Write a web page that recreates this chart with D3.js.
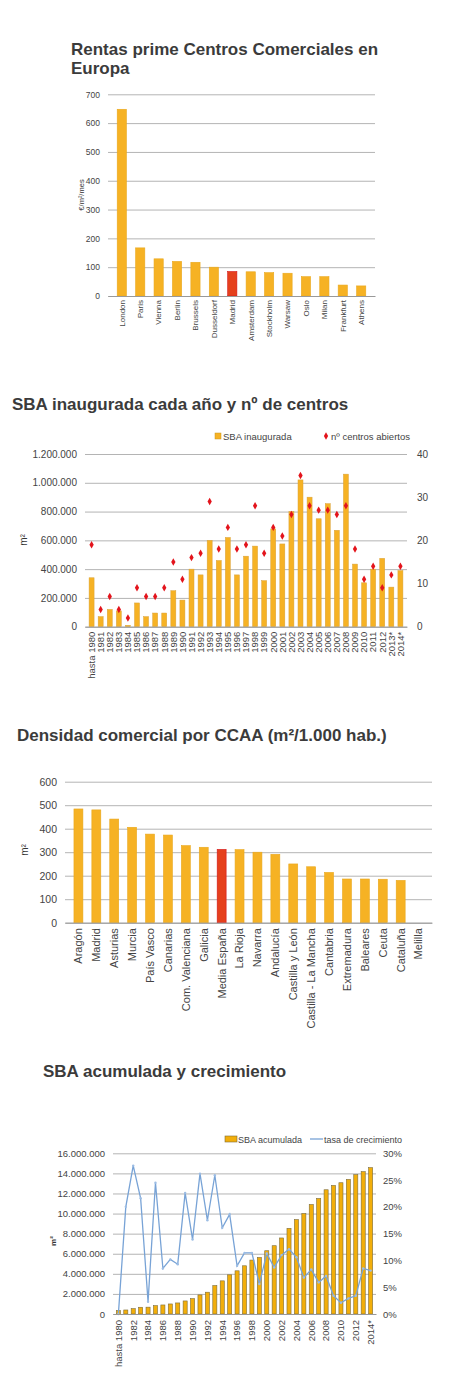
<!DOCTYPE html>
<html>
<head>
<meta charset="utf-8">
<script src="https://cdn.jsdelivr.net/npm/d3@7"></script>
<style>
  body { margin: 0; background: #fff; }
  svg { display: block; font-family: "Liberation Sans", Arial, sans-serif; }
  .title { font-weight: bold; fill: #3b3b3b; }
  .tick text { fill: #444; }
  .legend text { fill: #444; }
</style>
</head>
<body>
<svg id="chart" width="450" height="1390"></svg>
<script>
// --- chart 1: rentas prime
const cities = ['London', 'Paris', 'Vienna', 'Berlin', 'Brussels', 'Dusseldorf', 'Madrid',
  'Amsterdam', 'Stockholm', 'Warsaw', 'Oslo', 'Milan', 'Frankfurt', 'Athens'];
const rents = [648, 167, 129, 120, 117, 100, 85, 84, 81, 79, 67, 67, 38, 35];
const rentTicks = [0, 100, 200, 300, 400, 500, 600, 700];

// --- chart 2: SBA inaugurada / nº centros
const years = ['hasta 1980', '1981', '1982', '1983', '1984', '1985', '1986', '1987', '1988', '1989',
  '1990', '1991', '1992', '1993', '1994', '1995', '1996', '1997', '1998', '1999', '2000', '2001',
  '2002', '2003', '2004', '2005', '2006', '2007', '2008', '2009', '2010', '2011', '2012', '2013*', '2014*'];
const sbaOpened = [340000, 70000, 120000, 110000, 10000, 165000, 70000, 95000, 95000, 250000,
  185000, 400000, 360000, 600000, 460000, 620000, 360000, 490000, 560000, 320000, 680000, 575000,
  800000, 1020000, 900000, 750000, 855000, 670000, 1060000, 435000, 305000, 400000, 475000, 275000, 390000];
const centresOpened = [19, 4, 7, 4, 2, 9, 7, 7, 9, 15, 11, 16, 17, 29, 18, 23, 18, 19, 28, 17, 23, 21,
  26, 35, 28, 27, 27, 26, 28, 18, 11, 14, 9, 12, 14];
const sbaTicks = [0, 200000, 400000, 600000, 800000, 1000000, 1200000];
const centreTicks = [0, 10, 20, 30, 40];

// --- chart 3: densidad comercial
const regions = ['Aragón', 'Madrid', 'Asturias', 'Murcia', 'País Vasco', 'Canarias', 'Com. Valenciana',
  'Galicia', 'Media España', 'La Rioja', 'Navarra', 'Andalucía', 'Castilla y León', 'Castilla - La Mancha',
  'Cantabria', 'Extremadura', 'Baleares', 'Ceuta', 'Cataluña', 'Melilla'];
const density = [484, 480, 441, 406, 377, 373, 328, 321, 312, 311, 300, 291, 250, 238, 214, 186, 186, 185, 180, 0];
const densityTicks = [0, 100, 200, 300, 400, 500, 600];

// --- chart 4: SBA acumulada y crecimiento
const sbaCumulative = [340000, 400000, 530000, 670000, 680000, 830000, 900000, 1000000, 1100000, 1300000,
  1530000, 1900000, 2170000, 2830000, 3300000, 3900000, 4300000, 4800000, 5370000, 5630000, 6300000,
  6800000, 7570000, 8530000, 9400000, 10000000, 10900000, 11500000, 12370000, 12800000, 13070000,
  13400000, 13870000, 14170000, 14570000];
const growthRate = [0, 20.0, 27.7, 21.6, 2.3, 24.5, 8.5, 10.2, 9.3, 22.6, 13.9, 26.2, 17.5, 25.9, 16.1,
  18.6, 9.0, 11.4, 11.4, 5.6, 11.3, 8.7, 11.0, 12.1, 10.6, 6.8, 8.3, 5.9, 7.1, 3.4, 2.1, 2.9, 3.4, 8.5, 8.1];
const cumTicks = [0, 2000000, 4000000, 6000000, 8000000, 10000000, 12000000, 14000000, 16000000];
const rateTicks = [0, 5, 10, 15, 20, 25, 30];

const GOLD = '#f6b224';
const RED = '#e5401c';
const GRID = '#b4b4b4';

const es = d3.formatLocale({ decimal: ',', thousands: '.', grouping: [3], currency: ['', '€'] });
const fmtThousands = es.format(',');

const svg = d3.select('#chart');

function title(lines, x, y, size) {
  const t = svg.append('text').attr('class', 'title').attr('x', x).attr('y', y)
    .style('font-size', size + 'px');
  lines.forEach((l, i) => t.append('tspan').attr('x', x).attr('dy', i ? size * 1.12 : 0).text(l));
}

function gridAxis(g, scale, ticks, width, fmt, fontSize) {
  const ax = g.append('g')
    .call(d3.axisLeft(scale).tickValues(ticks).tickSize(-width).tickPadding(8).tickFormat(fmt));
  ax.select('.domain').remove();
  ax.selectAll('.tick line').attr('stroke', GRID);
  ax.selectAll('.tick text').style('font-size', fontSize + 'px');
  return ax;
}

function rotatedLabels(g, x, y0, gap, fontSize, filter) {
  const ax = g.append('g').attr('transform', `translate(0,${y0})`)
    .call(d3.axisBottom(x).tickSize(0).tickValues(filter ? x.domain().filter(filter) : x.domain()));
  ax.select('.domain').attr('stroke', '#999');
  ax.selectAll('.tick text')
    .attr('transform', 'rotate(-90)')
    .attr('x', -gap).attr('y', 0).attr('dy', '0.35em')
    .style('text-anchor', 'end')
    .style('font-size', fontSize + 'px');
}

function yTitle(text, x, y, size, bold) {
  svg.append('text').attr('transform', `translate(${x},${y}) rotate(-90)`)
    .attr('text-anchor', 'middle').style('font-size', size + 'px')
    .style('font-weight', bold ? 'bold' : 'normal').attr('fill', '#333').text(text);
}

// simple bar chart used for charts 1 and 3
function simpleBars(cfg) {
  const x = d3.scaleBand().domain(cfg.categories).range([cfg.left, cfg.right]).padding(0.5);
  const y = d3.scaleLinear().domain([0, d3.max(cfg.ticks)]).range([cfg.bottom, cfg.top]);
  const g = svg.append('g');
  gridAxis(g.append('g').attr('transform', `translate(${cfg.left},0)`), y, cfg.ticks,
    cfg.right - cfg.left, d3.format('d'), cfg.tickSize);
  g.selectAll('rect.bar')
    .data(cfg.values)
    .join('rect')
    .attr('class', 'bar')
    .attr('x', (d, i) => x(cfg.categories[i]))
    .attr('width', x.bandwidth())
    .attr('y', d => y(d))
    .attr('height', d => cfg.bottom - y(d))
    .attr('fill', (d, i) => cfg.categories[i] === cfg.highlight ? RED : GOLD)
    .attr('stroke', (d, i) => cfg.categories[i] === cfg.highlight ? '#d4161a' : '#e9a81e')
    .attr('stroke-width', 0.6);
  rotatedLabels(g, x, cfg.bottom, cfg.labelGap, cfg.labelSize);
}

// ---------------- chart 1
title(['Rentas prime Centros Comerciales en', 'Europa'], 71, 55, 17);
simpleBars({
  categories: cities, values: rents, ticks: rentTicks, highlight: 'Madrid',
  left: 108, right: 375, top: 94.3, bottom: 296, tickSize: 8.5, labelGap: 4, labelSize: 8
});
yTitle('€/m²/mes', 84, 195, 7.5, false);

// ---------------- chart 2
title(['SBA inaugurada cada año y nº de centros'], 12, 410, 17);
{
  const left = 85, right = 407, top = 454, bottom = 626.7;
  const x = d3.scaleBand().domain(years).range([left, right]).padding(0.45);
  const y = d3.scaleLinear().domain([0, d3.max(sbaTicks)]).range([bottom, top]);
  const y2 = d3.scaleLinear().domain([0, d3.max(centreTicks)]).range([bottom, top]);
  const g = svg.append('g');
  gridAxis(g.append('g').attr('transform', `translate(${left},0)`), y, sbaTicks, right - left,
    fmtThousands, 10);
  const ax2 = g.append('g').attr('transform', `translate(${right},0)`)
    .call(d3.axisRight(y2).tickValues(centreTicks).tickSize(0).tickPadding(10));
  ax2.select('.domain').remove();
  ax2.selectAll('.tick text').style('font-size', '10px');

  g.selectAll('rect.bar')
    .data(sbaOpened)
    .join('rect')
    .attr('class', 'bar')
    .attr('x', (d, i) => x(years[i]))
    .attr('width', x.bandwidth())
    .attr('y', d => y(d))
    .attr('height', d => bottom - y(d))
    .attr('fill', GOLD)
    .attr('stroke', '#d9a23a')
    .attr('stroke-width', 0.5);

  g.selectAll('path.centre')
    .data(centresOpened)
    .join('path')
    .attr('class', 'centre')
    .attr('transform', (d, i) => `translate(${x(years[i]) + x.bandwidth() / 2},${y2(d)})`)
    .attr('d', d3.symbol(d3.symbolDiamond, 16))
    .attr('fill', '#e3141c');

  rotatedLabels(g, x, bottom, 5, 9.5);
  yTitle('m²', 27, 540, 10, false);

  const lg = svg.append('g').attr('class', 'legend').style('font-size', '9.5px');
  lg.append('rect').attr('x', 215).attr('y', 433).attr('width', 6).attr('height', 6)
    .attr('fill', GOLD).attr('stroke', '#c9961e').attr('stroke-width', 0.5);
  lg.append('text').attr('x', 223).attr('y', 439.5).text('SBA inaugurada');
  lg.append('path').attr('transform', 'translate(326,436)')
    .attr('d', d3.symbol(d3.symbolDiamond, 16)).attr('fill', '#e3141c');
  lg.append('text').attr('x', 331).attr('y', 439.5).text('nº centros abiertos');
}

// ---------------- chart 3
title(['Densidad comercial por CCAA (m²/1.000 hab.)'], 17, 741, 17);
simpleBars({
  categories: regions, values: density, ticks: densityTicks, highlight: 'Media España',
  left: 65, right: 432, top: 781.7, bottom: 922.7, tickSize: 10.5, labelGap: 5.5, labelSize: 11
});
yTitle('m²', 28, 850, 10, false);

// ---------------- chart 4
title(['SBA acumulada y crecimiento'], 43, 1077, 17);
{
  const left = 113, right = 376, top = 1153.3, bottom = 1314;
  const x = d3.scaleBand().domain(years).range([left, right]).padding(0.45);
  const y = d3.scaleLinear().domain([0, d3.max(cumTicks)]).range([bottom, top]);
  const y2 = d3.scaleLinear().domain([0, d3.max(rateTicks)]).range([bottom, top]);
  const g = svg.append('g');
  gridAxis(g.append('g').attr('transform', `translate(${left},0)`), y, cumTicks, right - left,
    fmtThousands, 9.5);
  const ax2 = g.append('g').attr('transform', `translate(${right},0)`)
    .call(d3.axisRight(y2).tickValues(rateTicks).tickSize(0).tickPadding(7)
      .tickFormat(d => d + '%'));
  ax2.select('.domain').remove();
  ax2.selectAll('.tick text').style('font-size', '9.5px');

  g.selectAll('rect.bar')
    .data(sbaCumulative)
    .join('rect')
    .attr('class', 'bar')
    .attr('x', (d, i) => x(years[i]))
    .attr('width', x.bandwidth())
    .attr('y', d => y(d))
    .attr('height', d => bottom - y(d))
    .attr('fill', '#f2ae0a')
    .attr('stroke', '#7d6d3a')
    .attr('stroke-width', 0.6);

  const cx = (d, i) => x(years[i]) + x.bandwidth() / 2;
  g.append('path')
    .datum(growthRate)
    .attr('fill', 'none')
    .attr('stroke', '#78a3d6')
    .attr('stroke-width', 1.3)
    .attr('d', d3.line().x(cx).y(d => y2(d)));
  g.selectAll('circle.rate')
    .data(growthRate)
    .join('circle')
    .attr('class', 'rate')
    .attr('cx', cx)
    .attr('cy', d => y2(d))
    .attr('r', 1.2)
    .attr('fill', '#9dbde4');

  rotatedLabels(g, x, bottom, 6, 9.5, (d, i) => i % 2 === 0);
  yTitle('m²', 56, 1241, 8, true);

  const lg = svg.append('g').attr('class', 'legend').style('font-size', '9px');
  lg.append('rect').attr('x', 225).attr('y', 1136).attr('width', 12).attr('height', 6)
    .attr('fill', '#f2ae0a').attr('stroke', '#7d6d3a').attr('stroke-width', 0.6);
  lg.append('text').attr('x', 238).attr('y', 1142.5).text('SBA acumulada');
  lg.append('line').attr('x1', 310).attr('x2', 323).attr('y1', 1139).attr('y2', 1139)
    .attr('stroke', '#78a3d6').attr('stroke-width', 1.3);
  lg.append('text').attr('x', 324).attr('y', 1142.5).text('tasa de crecimiento');
}
</script>
</body>
</html>
